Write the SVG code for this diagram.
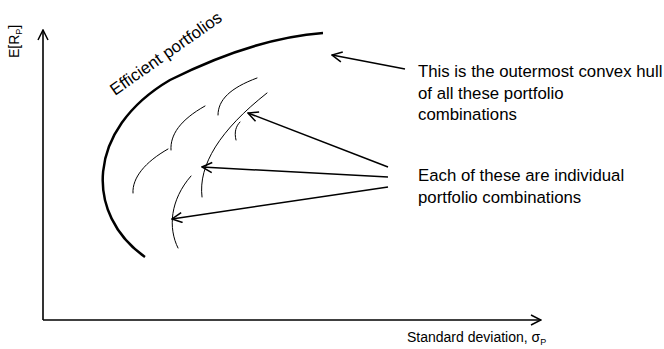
<svg xmlns="http://www.w3.org/2000/svg" width="664" height="349" viewBox="0 0 664 349">
<style>
  .txt { font-family: "Liberation Sans", Arial, sans-serif; fill: #000; }
  .lbl { font-size: 16.8px; }
  .thin { fill: none; stroke: #000; stroke-width: 1; stroke-linecap: round; }
  .arr { fill: none; stroke: #000; stroke-width: 1.5; marker-end: url(#ah); }
  .axis { fill: none; stroke: #000; stroke-width: 1.6; marker-end: url(#ah); }
</style>
<defs>
  <marker id="ah" markerUnits="userSpaceOnUse" viewBox="0 0 12 12" markerWidth="12" markerHeight="12" refX="11" refY="6" orient="auto">
    <path d="M1,1 L11,6 L1,11" fill="none" stroke="#000" stroke-width="1.5" stroke-linejoin="miter"/>
  </marker>
</defs>
<rect width="664" height="349" fill="#fff"/>

<g id="axes">
  <path class="axis" d="M43,320 L43,30"/>
  <path class="axis" d="M43,320 L541,320"/>
  <text class="txt" font-size="14" transform="translate(19,58) rotate(-90)">E[R<tspan font-size="9" dy="3">P</tspan><tspan dy="-3">]</tspan></text>
  <text class="txt" font-size="14" x="407" y="342">Standard deviation, σ<tspan font-size="9" dy="3">P</tspan></text>
</g>

<g id="frontier">
  <path d="M145,257 C85,215 85,130 170,80 C220,55 270,37 323,33" fill="none" stroke="#000" stroke-width="2.5"/>
  <text class="txt" font-size="16.8" transform="translate(115,96) rotate(-35)">Efficient portfolios</text>
</g>

<g id="portfolios">
  <path class="thin" d="M133,193 C132,178 145,162 168,149"/>
  <path class="thin" d="M171,150 C170,135 180,120 205,106"/>
  <path class="thin" d="M218,115 C218,100 230,88 257,78"/>
  <path class="thin" d="M236,140 C234,132 236,126 240,122"/>
  <path class="thin" d="M202,197 C198,165 220,130 267,93"/>
  <path class="thin" d="M178,248 C168,228 170,200 191,176"/>
</g>

<g id="label-hull">
  <text class="txt lbl" x="418" y="77">This is the outermost convex hull</text>
  <text class="txt lbl" x="418" y="98.5">of all these portfolio</text>
  <text class="txt lbl" x="418" y="120">combinations</text>
</g>

<g id="label-individual">
  <text class="txt lbl" x="418" y="181">Each of these are individual</text>
  <text class="txt lbl" x="418" y="203">portfolio combinations</text>
</g>

<g id="connectors">
  <path class="arr" d="M405,69 L332,55"/>
  <path class="arr" d="M388,167 L248,113"/>
  <path class="arr" d="M388,177 L202,167"/>
  <path class="arr" d="M388,187 L172,219"/>
</g>
</svg>
